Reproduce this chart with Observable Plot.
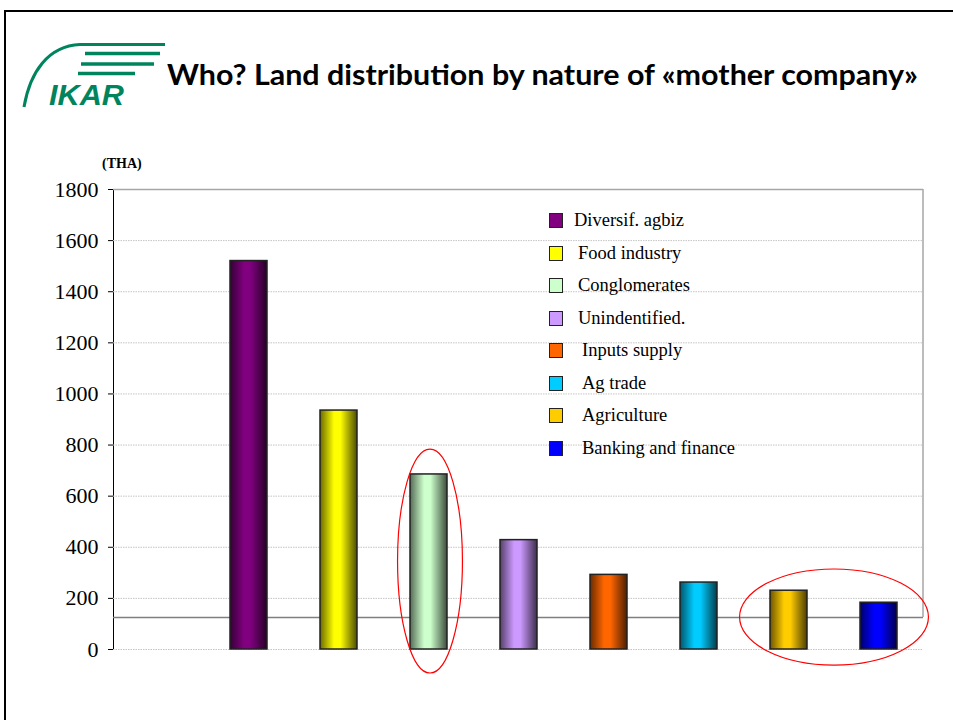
<!DOCTYPE html>
<html><head><meta charset="utf-8">
<script src="https://cdn.jsdelivr.net/npm/d3@7"></script>
<script src="https://cdn.jsdelivr.net/npm/@observablehq/plot@0.6"></script>
<style>
body{margin:0;background:#fff;}
#page{position:relative;width:953px;height:720px;overflow:hidden;background:#fff;}
#frame{position:absolute;left:4px;top:10px;width:980px;height:760px;border-left:2px solid #000;border-top:2px solid #000;box-sizing:border-box;}
#header{position:absolute;left:0;top:0;}
#chart{position:absolute;left:0;top:150px;}
#unit{position:absolute;left:102px;top:156px;font:bold 14px "Liberation Serif",serif;color:#000;}
#legend{position:absolute;left:0;top:0;width:953px;height:720px;pointer-events:none;}
.row{position:absolute;display:flex;align-items:center;font:18.5px "Liberation Serif",serif;color:#000;white-space:nowrap;}
.sw{position:absolute;width:14px;height:15px;box-sizing:border-box;border:1.5px solid #222;}
#chart svg text{font-family:"Liberation Serif",serif !important;}
</style></head>
<body>
<div id="page">
  <div id="frame"></div>
  <svg id="header" width="953" height="140">
    <g fill="none" stroke="#00845e">
      <path d="M24 107 C 30 72, 48 46, 80 44.5 L 165 44.5" stroke-width="3"/>
      <line x1="85" y1="53.5" x2="160" y2="53.5" stroke-width="3.5"/>
      <line x1="81" y1="64" x2="154" y2="64" stroke-width="3.5"/>
      <line x1="78" y1="73.5" x2="135" y2="73.5" stroke-width="3.5"/>
    </g>
    <text x="49" y="105" fill="#00845e" font-family="Liberation Sans, Arial, sans-serif" font-weight="bold" font-style="italic" font-size="30" textLength="75" lengthAdjust="spacingAndGlyphs">IKAR</text>
    <text id="title" x="167" y="85" fill="#000" font-family="Lato, 'Open Sans', sans-serif" font-weight="bold" font-size="28" textLength="751" lengthAdjust="spacingAndGlyphs"></text>
  </svg>
  <div id="unit"></div>
  <div id="chart"></div>
  <div id="legend"></div>
</div>
<script>
// ---- data ----
const titleText = "Who? Land distribution by nature of «mother company»";
const unitLabel = "(THA)";
const categories = ["Diversif. agbiz","Food industry","Conglomerates","Unindentified.","Inputs supply","Ag trade","Agriculture","Banking and finance"];
const values = [1520, 935, 685, 428, 292, 262, 230, 183];
const colors = ["#800080","#ffff00","#ccffcc","#cc99ff","#ff6600","#00ccff","#ffcc00","#0000ff"];
const yTicks = [0,200,400,600,800,1000,1200,1400,1600,1800];
const refLine = 125;
const circledGroups = [["Conglomerates"],["Agriculture","Banking and finance"]];
const circledLow = [-94, -63];
const circledHigh = [782, 313];

document.getElementById("title").textContent = titleText;
document.getElementById("unit").textContent = unitLabel;

const table = categories.map((c,i)=>({cat:c, value:values[i], grad:`url(#barGrad${i})`}));
const xDomain = [""].concat(categories);

const W = 940, H = 530;
const plot = Plot.plot({
  width: W, height: H,
  marginLeft: 113, marginRight: 17, marginTop: 39, marginBottom: 31,
  style: {fontFamily: "Liberation Serif, serif", fontSize: "22px", color: "#000", background: "transparent"},
  x: {domain: xDomain, paddingInner: 0.59, paddingOuter: 0.295, axis: null},
  y: {domain: [0,1800], ticks: yTicks, tickSize: 5, tickPadding: 10, tickFormat: d => String(d), label: null, line: true},
  color: {type: "identity"},
  marks: [
    Plot.ruleY(yTicks.filter(t => t < 1800), {stroke: "#c4c4c4", strokeWidth: 1, strokeDasharray: "1.5,1"}),
    Plot.ruleY([1800], {stroke: "#a6a6a6", strokeWidth: 1.5}),
    Plot.ruleY([refLine], {stroke: "#7f7f7f", strokeWidth: 1.5}),
    Plot.barY(table, {x: "cat", y: "value", fill: "grad", stroke: "#222", strokeWidth: 1.5})
  ]
});
document.getElementById("chart").appendChild(plot);

// gradients + annotations using the plot's scales
const svgNS = "http://www.w3.org/2000/svg";
const svg = plot.tagName.toLowerCase() === "svg" ? plot : plot.querySelector("svg");
svg.querySelectorAll("text").forEach(t => { t.style.fontFamily = "'Liberation Serif', serif"; t.style.fontSize = "22px"; });
const defs = document.createElementNS(svgNS, "defs");
colors.forEach((c,i) => {
  const g = document.createElementNS(svgNS, "linearGradient");
  g.setAttribute("id", `barGrad${i}`);
  g.setAttribute("x1","0"); g.setAttribute("x2","1"); g.setAttribute("y1","0"); g.setAttribute("y2","0");
  const base = d3.rgb(c);
  const shade = k => d3.rgb(base.r*k, base.g*k, base.b*k).formatHex();
  [[0, shade(0.42)],[0.38, c],[0.55, c],[1, shade(0.3)]].forEach(([o,col]) => {
    const s = document.createElementNS(svgNS, "stop");
    s.setAttribute("offset", o); s.setAttribute("stop-color", col);
    g.appendChild(s);
  });
  defs.appendChild(g);
});
svg.insertBefore(defs, svg.firstChild);

const xs = plot.scale("x"), ys = plot.scale("y");
const xScale = d3.scaleBand().domain(xs.domain).range(xs.range).paddingInner(xs.paddingInner).paddingOuter(xs.paddingOuter).align(xs.align ?? 0.5);
const yScale = d3.scaleLinear().domain(ys.domain).range(ys.range);

const ann = document.createElementNS(svgNS, "g");
// right border of plot area
const rb = document.createElementNS(svgNS, "line");
rb.setAttribute("x1", W - 17); rb.setAttribute("x2", W - 17);
rb.setAttribute("y1", yScale(1800)); rb.setAttribute("y2", yScale(refLine));
rb.setAttribute("stroke", "#a6a6a6"); rb.setAttribute("stroke-width", 1.5);
ann.appendChild(rb);
circledGroups.forEach((grp, i) => {
  const pad = grp.length > 1 ? 30 : 12;
  const x0 = xScale(grp[0]) - pad;
  const x1 = xScale(grp[grp.length-1]) + xScale.bandwidth() + pad + (grp.length > 1 ? 2 : 4);
  const yA = yScale(circledHigh[i]), yB = yScale(circledLow[i]);
  const e = document.createElementNS(svgNS, "ellipse");
  e.setAttribute("cx", (x0+x1)/2); e.setAttribute("cy", (yA+yB)/2);
  e.setAttribute("rx", (x1-x0)/2); e.setAttribute("ry", Math.abs(yB-yA)/2);
  e.setAttribute("fill", "none"); e.setAttribute("stroke", "#ff0000"); e.setAttribute("stroke-width", 1.2);
  ann.appendChild(e);
});
svg.appendChild(ann);
svg.style.overflow = "visible";

// legend
const legend = document.getElementById("legend");
const legendIndent = [0,4,4,4,8,8,8,8];
categories.forEach((c,i) => {
  const cy = 220.5 + 32.5*i;
  const sw = document.createElement("div");
  sw.className = "sw";
  sw.style.left = "549px"; sw.style.top = (cy - 7.5) + "px";
  sw.style.background = colors[i];
  legend.appendChild(sw);
  const t = document.createElement("div");
  t.className = "row";
  t.style.left = (574 + legendIndent[i]) + "px";
  t.style.top = (cy - 12) + "px"; t.style.height = "24px";
  t.textContent = c;
  legend.appendChild(t);
});
</script>
</body></html>
